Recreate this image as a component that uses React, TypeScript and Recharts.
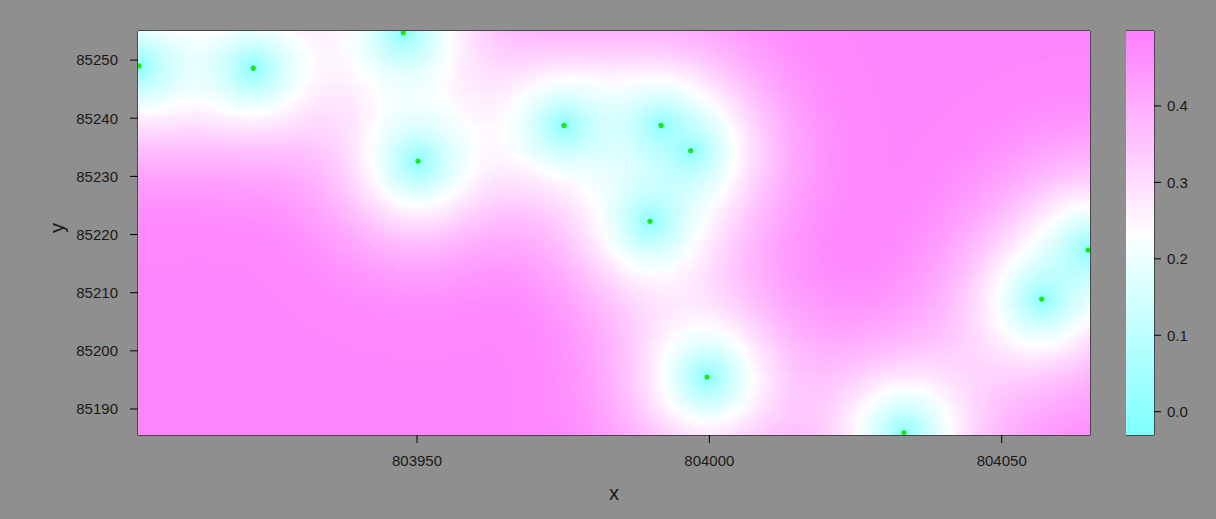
import React from 'react';
import { ScatterChart, Scatter, XAxis, YAxis, ReferenceArea } from 'recharts';

// Sample locations (easting / northing)
const sampleX = [803902.45, 803922.0, 803947.66, 803950.17, 803975.14, 803991.73, 803996.8, 803989.85, 803999.6, 804033.29, 804056.84, 804064.76];
const sampleY = [85248.97, 85248.6, 85254.7, 85232.64, 85238.77, 85238.77, 85234.41, 85222.27, 85195.5, 85185.9, 85208.91, 85217.34];

// Map extent and tick labels
const xDomain = [803902.28, 804065.1];
const yDomain = [85185.53, 85255.0];
const xTicks = [803950, 804000, 804050];
const yTicks = [85190, 85200, 85210, 85220, 85230, 85240, 85250];

// Colour key
const keyDomain = [-0.0305, 0.498];
const keyTicks = [0, 0.1, 0.2, 0.3, 0.4];
const N_LEVELS = 100;

// Spherical variogram used for the kriging variance
const SILL = 0.43;
const RANGE = 36;

const GRID_COLS = 326;
const GRID_ROWS = 139;

const PLOT_W = 952;
const PLOT_H = 404;
const KEY_W = 28;
const BG = '#8f8f8f';
const FONT = "'Liberation Sans', Arial, sans-serif";
const TEXT = '#1a1a1a';

// cm.colors(n): cyan -> white -> magenta
function cmColors(n: number): string[] {
  const k = Math.floor(n / 2);
  const even = n % 2 === 0;
  const l1 = k + 1 - (even ? 1 : 0);
  const l2 = n - k + (even ? 1 : 0);
  const out: string[] = [];
  const hex = (v: number) => Math.round(v * 255).toString(16).padStart(2, '0');
  const sEnd = even ? 0.5 / k : 0;
  for (let i = 0; i < l1; i++) {
    const s = l1 === 1 ? 0.5 : 0.5 + (sEnd - 0.5) * (i / (l1 - 1));
    out.push('#' + hex(1 - s) + 'ff' + 'ff');
  }
  for (let i = 1; i < l2; i++) {
    const s = 0.5 * (i / (l2 - 1));
    out.push('#ff' + hex(1 - s) + 'ff');
  }
  return out;
}
const palette = cmColors(N_LEVELS);

const gamma = (h: number) => {
  if (h >= RANGE) return SILL;
  const t = h / RANGE;
  return SILL * (1.5 * t - 0.5 * t * t * t);
};

function invert(a: number[][]): number[][] {
  const n = a.length;
  const m = a.map((row, i) => [...row, ...Array.from({ length: n }, (_, j) => (i === j ? 1 : 0))]);
  for (let c = 0; c < n; c++) {
    let p = c;
    for (let r = c + 1; r < n; r++) if (Math.abs(m[r][c]) > Math.abs(m[p][c])) p = r;
    [m[c], m[p]] = [m[p], m[c]];
    const d = m[c][c];
    for (let j = 0; j < 2 * n; j++) m[c][j] /= d;
    for (let r = 0; r < n; r++) {
      if (r === c) continue;
      const f = m[r][c];
      if (f === 0) continue;
      for (let j = 0; j < 2 * n; j++) m[r][j] -= f * m[c][j];
    }
  }
  return m.map((row) => row.slice(n));
}

// Ordinary kriging system
const nS = sampleX.length;
const K: number[][] = [];
for (let i = 0; i <= nS; i++) {
  const row: number[] = [];
  for (let j = 0; j <= nS; j++) {
    if (i === nS && j === nS) row.push(0);
    else if (i === nS || j === nS) row.push(1);
    else row.push(gamma(Math.hypot(sampleX[i] - sampleX[j], sampleY[i] - sampleY[j])));
  }
  K.push(row);
}
const Kinv = invert(K);

function krigeVariance(x: number, y: number): number {
  const g: number[] = [];
  for (let i = 0; i < nS; i++) g.push(gamma(Math.hypot(x - sampleX[i], y - sampleY[i])));
  g.push(1);
  let v = 0;
  for (let i = 0; i <= nS; i++) {
    let w = 0;
    for (let j = 0; j <= nS; j++) w += Kinv[i][j] * g[j];
    v += w * g[i];
  }
  return v;
}

const dx = (xDomain[1] - xDomain[0]) / GRID_COLS;
const dy = (yDomain[1] - yDomain[0]) / GRID_ROWS;
const keyStep = (keyDomain[1] - keyDomain[0]) / N_LEVELS;

type Run = { x: number; y: number; w: number; fill: string };
const runs: Run[] = [];
for (let r = 0; r < GRID_ROWS; r++) {
  const yc = yDomain[0] + (r + 0.5) * dy;
  let start = 0;
  let cur = -1;
  for (let c = 0; c <= GRID_COLS; c++) {
    let lvl = -2;
    if (c < GRID_COLS) {
      const v = krigeVariance(xDomain[0] + (c + 0.5) * dx, yc);
      lvl = Math.min(N_LEVELS - 1, Math.max(0, Math.floor((v - keyDomain[0]) / keyStep)));
    }
    if (lvl !== cur) {
      if (cur >= 0) {
        runs.push({ x: xDomain[0] + start * dx, y: yDomain[0] + (r + 1) * dy, w: (c - start) * dx, fill: palette[cur] });
      }
      cur = lvl;
      start = c;
    }
  }
}

const points = sampleX.map((x, i) => ({ x, y: sampleY[i] }));
const keyBands = palette.map((fill, i) => ({ x: 0, y: keyDomain[0] + (i + 1) * keyStep, fill }));

const kx = PLOT_W / (xDomain[1] - xDomain[0]);
const ky = PLOT_H / (yDomain[1] - yDomain[0]);
const kyKey = PLOT_H / (keyDomain[1] - keyDomain[0]);

const tickStyle = { fill: TEXT, fontSize: 15, fontFamily: FONT };
const lineStyle = { stroke: '#000', strokeWidth: 1 };

export default function App() {
  return (
    <div style={{ position: 'absolute', left: 0, top: 0, width: 1216, height: 519, background: BG, overflow: 'hidden' }}>
      <div style={{ position: 'absolute', left: 0, top: 0 }}>
        <ScatterChart width={1216} height={519} margin={{ top: 21, right: 116, bottom: 12, left: 40 }}>
          <XAxis
            dataKey="x"
            type="number"
            domain={xDomain}
            allowDataOverflow
            ticks={xTicks}
            interval={0}
            height={72}
            tickSize={8}
            tickMargin={12}
            tick={tickStyle}
            tickLine={lineStyle}
            axisLine={lineStyle}
            label={{ value: 'x', position: 'insideBottom', offset: 7, fill: TEXT, fontSize: 20, fontFamily: FONT }}
          />
          <XAxis
            xAxisId="top"
            orientation="top"
            dataKey="x"
            type="number"
            domain={xDomain}
            allowDataOverflow
            ticks={xTicks}
            interval={0}
            height={10}
            tickSize={9}
            tick={false}
            tickLine={lineStyle}
            axisLine={lineStyle}
          />
          <YAxis
            dataKey="y"
            type="number"
            domain={yDomain}
            allowDataOverflow
            ticks={yTicks}
            interval={0}
            width={98}
            tickSize={8}
            tickMargin={12}
            tick={tickStyle}
            tickLine={lineStyle}
            axisLine={lineStyle}
            label={{ value: 'y', angle: -90, position: 'insideLeft', offset: 17, fill: TEXT, fontSize: 20, fontFamily: FONT }}
          />
          <YAxis
            yAxisId="right"
            orientation="right"
            dataKey="y"
            type="number"
            domain={yDomain}
            allowDataOverflow
            ticks={yTicks}
            interval={0}
            width={10}
            tickSize={9}
            tick={false}
            tickLine={lineStyle}
            axisLine={lineStyle}
          />
          <Scatter
            data={runs}
            isAnimationActive={false}
            shape={(p: any) => (
              <rect x={p.cx} y={p.cy} width={p.payload.w * kx + 0.6} height={dy * ky + 0.6} fill={p.payload.fill} />
            )}
          />
          <Scatter
            data={points}
            isAnimationActive={false}
            shape={(p: any) => <circle cx={p.cx} cy={p.cy} r={2.6} fill="#1ee61e" />}
          />
        </ScatterChart>
      </div>
      <div style={{ position: 'absolute', left: 1126, top: 0 }}>
        <ScatterChart width={90} height={519} margin={{ top: 31, right: 0, bottom: 84, left: 0 }}>
          <XAxis dataKey="x" type="number" domain={[0, 1]} allowDataOverflow hide />
          <YAxis
            dataKey="y"
            orientation="right"
            type="number"
            domain={keyDomain}
            allowDataOverflow
            ticks={keyTicks}
            interval={0}
            width={62}
            tickSize={7}
            tickMargin={6}
            tickFormatter={(v: number) => v.toFixed(1)}
            tick={tickStyle}
            tickLine={lineStyle}
            axisLine={false}
          />
          <Scatter
            data={keyBands}
            isAnimationActive={false}
            shape={(p: any) => (
              <rect x={p.cx} y={p.cy} width={KEY_W} height={keyStep * kyKey + 0.6} fill={p.payload.fill} />
            )}
          />
          <ReferenceArea x1={0} x2={1} y1={keyDomain[0]} y2={keyDomain[1]} fill="none" stroke="#000" strokeWidth={1} />
        </ScatterChart>
      </div>
    </div>
  );
}
